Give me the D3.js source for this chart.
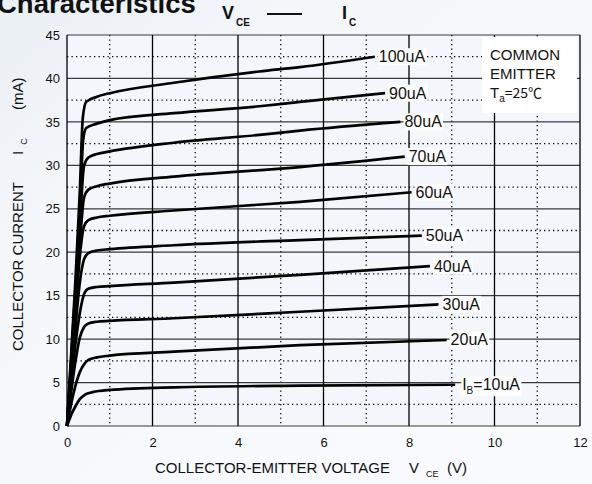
<!DOCTYPE html>
<html><head><meta charset="utf-8">
<script src="https://cdn.jsdelivr.net/npm/d3@7"></script>
<style>
html,body{margin:0;padding:0;}
body{width:592px;height:484px;overflow:hidden;}
text{font-family:"Liberation Sans",Arial,Helvetica,sans-serif;}
</style></head>
<body>
<svg id="c" width="592" height="484"></svg>
<script>
// ---- data ----
const xTicks = [0,2,4,6,8,10,12];
const yTicks = [0,5,10,15,20,25,30,35,40,45];
const curveLabels = ["I_B=10uA","20uA","30uA","40uA","50uA","60uA","70uA","80uA","90uA","100uA"];
const ib10  = [[0,0],[0.1,1.3],[0.2,2.3],[0.3,3.1],[0.42,3.6],[0.6,3.9],[1,4.15],[2.5,4.45],[5.5,4.65],[9.08,4.75]];
const ib20  = [[0,0],[0.1,2.6],[0.19,4.5],[0.3,6.2],[0.4,7.1],[0.5,7.6],[0.7,7.9],[1,8.1],[2.5,8.55],[5.45,9.3],[8.88,9.9]];
const ib30  = [[0,0],[0.1,4],[0.2,7.5],[0.3,10.2],[0.4,11.4],[0.5,11.8],[0.7,12.0],[1,12.1],[2.5,12.4],[5.45,13.15],[8.69,14.0]];
const ib40  = [[0,0],[0.1,5],[0.2,9.5],[0.3,13],[0.4,15.2],[0.5,15.8],[0.7,16.0],[1,16.1],[2.5,16.5],[5.45,17.4],[8.49,18.4]];
const ib50  = [[0,0],[0.1,6],[0.2,11.5],[0.3,16.5],[0.4,19.2],[0.5,19.9],[0.7,20.2],[1,20.35],[2.5,20.8],[5.45,21.4],[8.3,21.9]];
const ib60  = [[0,0],[0.1,6.5],[0.2,13],[0.3,19.5],[0.4,23],[0.5,23.7],[0.7,24.0],[1,24.2],[2.5,24.8],[5.45,25.8],[8.06,26.9]];
const ib70  = [[0,0],[0.1,7],[0.2,14],[0.3,21],[0.4,26.3],[0.5,27.2],[0.7,27.6],[1,27.9],[2.5,28.7],[5.45,29.8],[7.9,31.0]];
const ib80  = [[0,0],[0.1,7.5],[0.2,15],[0.3,23],[0.4,30],[0.5,30.9],[0.7,31.3],[1,31.6],[2.5,32.6],[4.5,33.5],[5.45,34.0],[7.8,35.0]];
const ib90  = [[0,0],[0.1,8],[0.2,16],[0.3,25],[0.38,33],[0.45,34.3],[0.7,34.8],[1,35.2],[2.5,36.0],[4.5,36.8],[5.45,37.3],[7.44,38.3]];
const ib100 = [[0,0],[0.1,8.5],[0.2,17],[0.3,27],[0.37,35.5],[0.45,37.3],[0.7,37.9],[1,38.3],[2.5,39.5],[4.5,40.8],[5.45,41.3],[7.2,42.5]];
const curves = [ib10,ib20,ib30,ib40,ib50,ib60,ib70,ib80,ib90,ib100];

// ---- layout ----
const svg = d3.select("#c");
const L=67,R=580,T=35,B=426;
const x = d3.scaleLinear().domain([0,12]).range([L,R]);
const y = d3.scaleLinear().domain([0,45]).range([B,T]);

// background
const defs = svg.append("defs");
const g1 = defs.append("linearGradient").attr("id","bg").attr("x1","0").attr("y1","0").attr("x2","1").attr("y2","1");
g1.append("stop").attr("offset","0").attr("stop-color","#eaeff4");
g1.append("stop").attr("offset","0.3").attr("stop-color","#f5f8fb");
g1.append("stop").attr("offset","1").attr("stop-color","#f9fbfd");
svg.append("rect").attr("width",592).attr("height",484).attr("fill","url(#bg)");
svg.append("rect").attr("x",L).attr("y",T).attr("width",R-L).attr("height",B-T).attr("fill","#f3f7fb");

// grid
const grid = svg.append("g");
d3.range(1,12,2).forEach(v=>grid.append("line").attr("x1",x(v)).attr("x2",x(v)).attr("y1",T).attr("y2",B)
  .attr("stroke","#000").attr("stroke-width",1.3).attr("stroke-dasharray","1.3,3.2"));
d3.range(2.5,45,5).forEach(v=>grid.append("line").attr("y1",y(v)).attr("y2",y(v)).attr("x1",L).attr("x2",R)
  .attr("stroke","#000").attr("stroke-width",1.3).attr("stroke-dasharray","1.3,3.2"));
yTicks.forEach(v=>grid.append("line").attr("y1",y(v)).attr("y2",y(v)).attr("x1",L).attr("x2",R)
  .attr("stroke","#3a3a3a").attr("stroke-width",1.2));
xTicks.forEach(v=>grid.append("line").attr("x1",x(v)).attr("x2",x(v)).attr("y1",T).attr("y2",B)
  .attr("stroke","#000").attr("stroke-width",1.3));

// axes labels via d3 axes
const xa = svg.append("g").attr("transform",`translate(0,${B})`)
  .call(d3.axisBottom(x).tickValues(xTicks).tickSize(0).tickPadding(12).tickFormat(d3.format("d")));
const ya = svg.append("g").attr("transform",`translate(${L},0)`)
  .call(d3.axisLeft(y).tickValues(yTicks).tickSize(0).tickPadding(7).tickFormat(d3.format("d")));
[xa,ya].forEach(a=>{a.select(".domain").remove();a.selectAll("text").attr("font-size",13).attr("fill","#111")
  .attr("font-family",'"Liberation Sans",Arial,sans-serif');});

// curves
const line = d3.line().x(d=>x(d[0])).y(d=>y(d[1])).curve(d3.curveMonotoneX);
svg.append("g").selectAll("path").data(curves).join("path")
  .attr("d",line).attr("fill","none").attr("stroke","#000").attr("stroke-width",2.7).attr("stroke-linejoin","round");

// curve labels
const lg = svg.append("g");
curves.forEach((c,i)=>{
  const e = c[c.length-1];
  const gap = i===0 ? 7 : 4;
  const g = lg.append("g");
  const t = g.append("text").attr("x",x(e[0])+gap).attr("y",y(e[1])+5.5).attr("font-size",16).attr("fill","#111");
  const lab = curveLabels[i];
  if(lab.startsWith("I_B")){
    t.append("tspan").text("I");
    t.append("tspan").text("B").attr("font-size",10).attr("dy",4);
    t.append("tspan").text("=10uA").attr("dy",-4);
  } else t.text(lab);
  const bb = t.node().getBBox();
  g.insert("rect","text").attr("x",bb.x-1).attr("y",bb.y).attr("width",bb.width+2).attr("height",bb.height).attr("fill","#fff");
});

// condition box
svg.append("rect").attr("x",482).attr("y",37).attr("width",95).attr("height",76).attr("fill","#fff");
const cb = svg.append("g").attr("font-size",15).attr("fill","#111");
cb.append("text").attr("x",490).attr("y",60).text("COMMON");
cb.append("text").attr("x",490).attr("y",79).text("EMITTER");
const ta = cb.append("text").attr("x",490).attr("y",98);
ta.append("tspan").text("T");
ta.append("tspan").text("a").attr("font-size",10).attr("dy",4);
ta.append("tspan").text("=25℃").attr("dy",-4).attr("font-family",'"Noto Sans CJK SC","Liberation Sans",sans-serif').attr("font-size",14);

// axis titles
const xt = svg.append("text").attr("x",155).attr("y",473).attr("font-size",15).attr("fill","#111");
xt.append("tspan").text("COLLECTOR-EMITTER VOLTAGE");
xt.append("tspan").attr("x",409).text("V");
xt.append("tspan").text("CE").attr("font-size",9).attr("dx",7).attr("dy",4);
xt.append("tspan").attr("x",447).attr("dy",-4).text("(V)");

const yt = svg.append("text").attr("transform","translate(23,351) rotate(-90)").attr("font-size",15).attr("fill","#111");
yt.append("tspan").text("COLLECTOR CURRENT");
yt.append("tspan").attr("x",196).text("I");
yt.append("tspan").text("C").attr("font-size",9).attr("dx",6).attr("dy",4);
yt.append("tspan").attr("x",241).attr("dy",-4).text("(mA)");

// title
svg.append("text").attr("x",-3).attr("y",13).attr("font-size",27.5).attr("font-weight","bold").attr("fill","#111").text("Characteristics");
const tv = svg.append("text").attr("x",222).attr("y",19).attr("font-size",18).attr("font-weight","bold").attr("fill","#111");
tv.append("tspan").text("V");
tv.append("tspan").text("CE").attr("font-size",10).attr("dx",2).attr("dy",7);
svg.append("line").attr("x1",267).attr("x2",302).attr("y1",14).attr("y2",14).attr("stroke","#111").attr("stroke-width",2);
const ti = svg.append("text").attr("x",342).attr("y",19).attr("font-size",18).attr("font-weight","bold").attr("fill","#111");
ti.append("tspan").text("I");
ti.append("tspan").text("C").attr("font-size",10).attr("dx",2).attr("dy",7);
</script>
</body></html>
